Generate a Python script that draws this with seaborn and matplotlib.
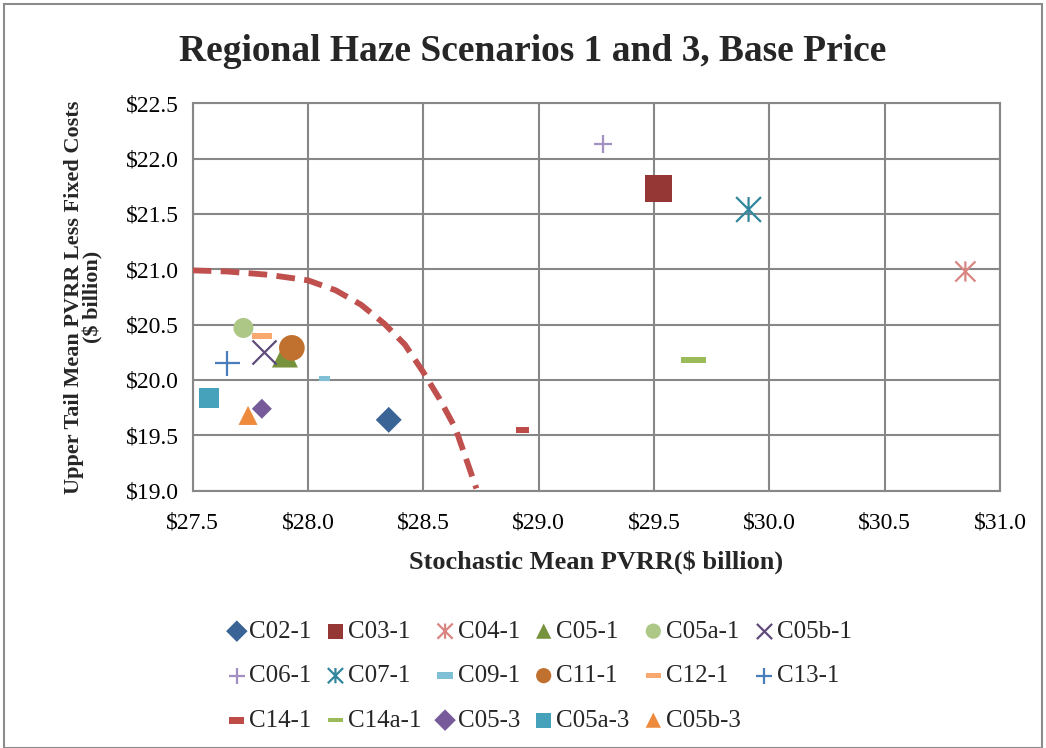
import matplotlib
matplotlib.use("Agg")
import matplotlib.pyplot as plt
import seaborn as sns
import numpy as np
from matplotlib.path import Path
from matplotlib.patches import Rectangle
from matplotlib.ticker import FuncFormatter, MultipleLocator

# ---------------- data ----------------
names = ["C02-1", "C03-1", "C04-1", "C05-1", "C05a-1", "C05b-1",
         "C06-1", "C07-1", "C09-1", "C11-1", "C12-1", "C13-1",
         "C14-1", "C14a-1", "C05-3", "C05a-3", "C05b-3"]
x_vals = [28.35, 29.52, 30.85, 27.90, 27.72, 27.81,
          29.28, 29.91, 28.07, 27.93, 27.80, 27.65,
          28.93, 29.67, 27.80, 27.57, 27.74]
y_vals = [19.64, 21.73, 20.98, 20.23, 20.47, 20.25,
          22.13, 21.54, 20.01, 20.29, 20.40, 20.15,
          19.55, 20.18, 19.74, 19.84, 19.68]

frontier_x = [27.50, 27.65, 27.83, 28.00, 28.12, 28.23, 28.33, 28.42,
              28.50, 28.57, 28.64, 28.69, 28.73]
frontier_y = [20.99, 20.98, 20.95, 20.90, 20.81, 20.68, 20.51, 20.32,
              20.07, 19.83, 19.56, 19.26, 19.02]

title = "Regional Haze Scenarios 1 and 3, Base Price"
xlabel = "Stochastic Mean PVRR(\\$ billion)"
ylabel = "Upper Tail Mean PVRR Less Fixed Costs\n(\\$ billion)"

# ---------------- styles ----------------
def dash(aspect):
    h = aspect / 2
    return Path([(-0.5, -h), (0.5, -h), (0.5, h), (-0.5, h), (-0.5, -h)],
                [Path.MOVETO, Path.LINETO, Path.LINETO, Path.LINETO, Path.CLOSEPOLY])

star = Path([(-0.5, -0.5), (0.5, 0.5), (-0.5, 0.5), (0.5, -0.5), (0, -0.5), (0, 0.5)],
            [Path.MOVETO, Path.LINETO, Path.MOVETO, Path.LINETO, Path.MOVETO, Path.LINETO])

# kind: "fill" = filled shape, "edge" = custom line path, "line" = builtin unfilled marker
styles = {
    "C02-1":  dict(marker="D", color="#3B6496", s=175, kind="fill"),
    "C03-1":  dict(marker="s", color="#953735", s=357, kind="fill"),
    "C04-1":  dict(marker=star, color="#D98683", s=210, kind="edge"),
    "C05-1":  dict(marker="^", color="#76923C", s=350, kind="fill"),
    "C05a-1": dict(marker="o", color="#ADC786", s=207, kind="fill"),
    "C05b-1": dict(marker="x", color="#5F4A7B", s=300, kind="line"),
    "C06-1":  dict(marker="+", color="#A390C2", s=170, kind="line"),
    "C07-1":  dict(marker=star, color="#31859C", s=320, kind="edge"),
    "C09-1":  dict(marker=dash(0.45), color="#7FC0D6", s=64, kind="fill"),
    "C11-1":  dict(marker="o", color="#C0712F", s=342, kind="fill"),
    "C12-1":  dict(marker=dash(0.3), color="#F9A86F", s=207, kind="fill"),
    "C13-1":  dict(marker="+", color="#4A7EBB", s=324, kind="line"),
    "C14-1":  dict(marker=dash(0.45), color="#BE4B48", s=88, kind="fill"),
    "C14a-1": dict(marker=dash(0.25), color="#9BBB59", s=325, kind="fill"),
    "C05-3":  dict(marker="D", color="#775A9A", s=104, kind="fill"),
    "C05a-3": dict(marker="s", color="#46A2BA", s=214, kind="fill"),
    "C05b-3": dict(marker="^", color="#EE8A3C", s=188, kind="fill"),
}

# ---------------- figure ----------------
sns.set_theme(style="white")
plt.rcParams["font.family"] = ["Liberation Serif", "DejaVu Serif"]

fig = plt.figure(figsize=(10.46, 7.48), dpi=100)
ax = fig.add_axes([0.1842, 0.344, 0.956 - 0.1842, 0.862 - 0.344])

grid_c = "#878787"

sns.lineplot(x=frontier_x, y=frontier_y, sort=False, ax=ax, color="#C0504D",
             linewidth=4.2, linestyle=(0, (3.2, 1.6)), zorder=3)

for n, xv, yv in zip(names, x_vals, y_vals):
    st = styles[n]
    if st["kind"] == "fill":
        sns.scatterplot(x=[xv], y=[yv], ax=ax, marker=st["marker"], s=st["s"],
                        color=st["color"], edgecolor="none", linewidth=0,
                        label=n, zorder=4)
    elif st["kind"] == "edge":
        sns.scatterplot(x=[xv], y=[yv], ax=ax, marker=st["marker"], s=st["s"],
                        color=st["color"], edgecolor=st["color"], facecolor="none",
                        linewidth=1.6, label=n, zorder=4)
    else:
        sns.scatterplot(x=[xv], y=[yv], ax=ax, marker=st["marker"], s=st["s"],
                        color=st["color"], linewidth=1.6, label=n, zorder=4)

ax.set_xlim(27.5, 31.0)
ax.set_ylim(19.0, 22.5)
ax.xaxis.set_major_locator(MultipleLocator(0.5))
ax.yaxis.set_major_locator(MultipleLocator(0.5))
fmt = FuncFormatter(lambda v, p: "\\$%.1f" % v)
ax.xaxis.set_major_formatter(fmt)
ax.yaxis.set_major_formatter(fmt)
ax.grid(True, color=grid_c, linewidth=1.5)
ax.set_axisbelow(True)
for sp in ax.spines.values():
    sp.set_color(grid_c)
    sp.set_linewidth(1.5)
ax.tick_params(axis="both", which="major", direction="out", length=6, width=1.2,
               color=grid_c, labelsize=17, labelcolor="black", pad=4)
ax.tick_params(axis="x", pad=10)

ax.set_xlabel(xlabel, fontsize=19, fontweight="bold", labelpad=12)
ax.set_ylabel(ylabel, fontsize=16, fontweight="bold", labelpad=16,
              linespacing=1.0)
fig.text(0.509, 0.931, title, ha="center", va="center", fontsize=27,
         fontweight="bold")

# legend, row-major order
handles, labels = ax.get_legend_handles_labels()
order = []
ncol = 6
nrow = 3
for c in range(ncol):
    for r in range(nrow):
        i = r * ncol + c
        if i < len(handles):
            order.append(i)
leg = ax.legend([handles[i] for i in order], [labels[i] for i in order],
                ncol=ncol, loc="center", bbox_to_anchor=(0.515, 0.0963),
                bbox_transform=fig.transFigure, frameon=False, fontsize=18,
                handletextpad=0.05, columnspacing=0.5, handlelength=0.9,
                labelspacing=0.88)
for h in leg.legend_handles:
    try:
        h.set_sizes([120])
    except Exception:
        pass

fig.patches.append(Rectangle((0.004, 0.0), 0.992, 0.994, transform=fig.transFigure,
                             fill=False, edgecolor="#8C8C8C", linewidth=1.5))

fig.savefig("out.png", dpi=100)
